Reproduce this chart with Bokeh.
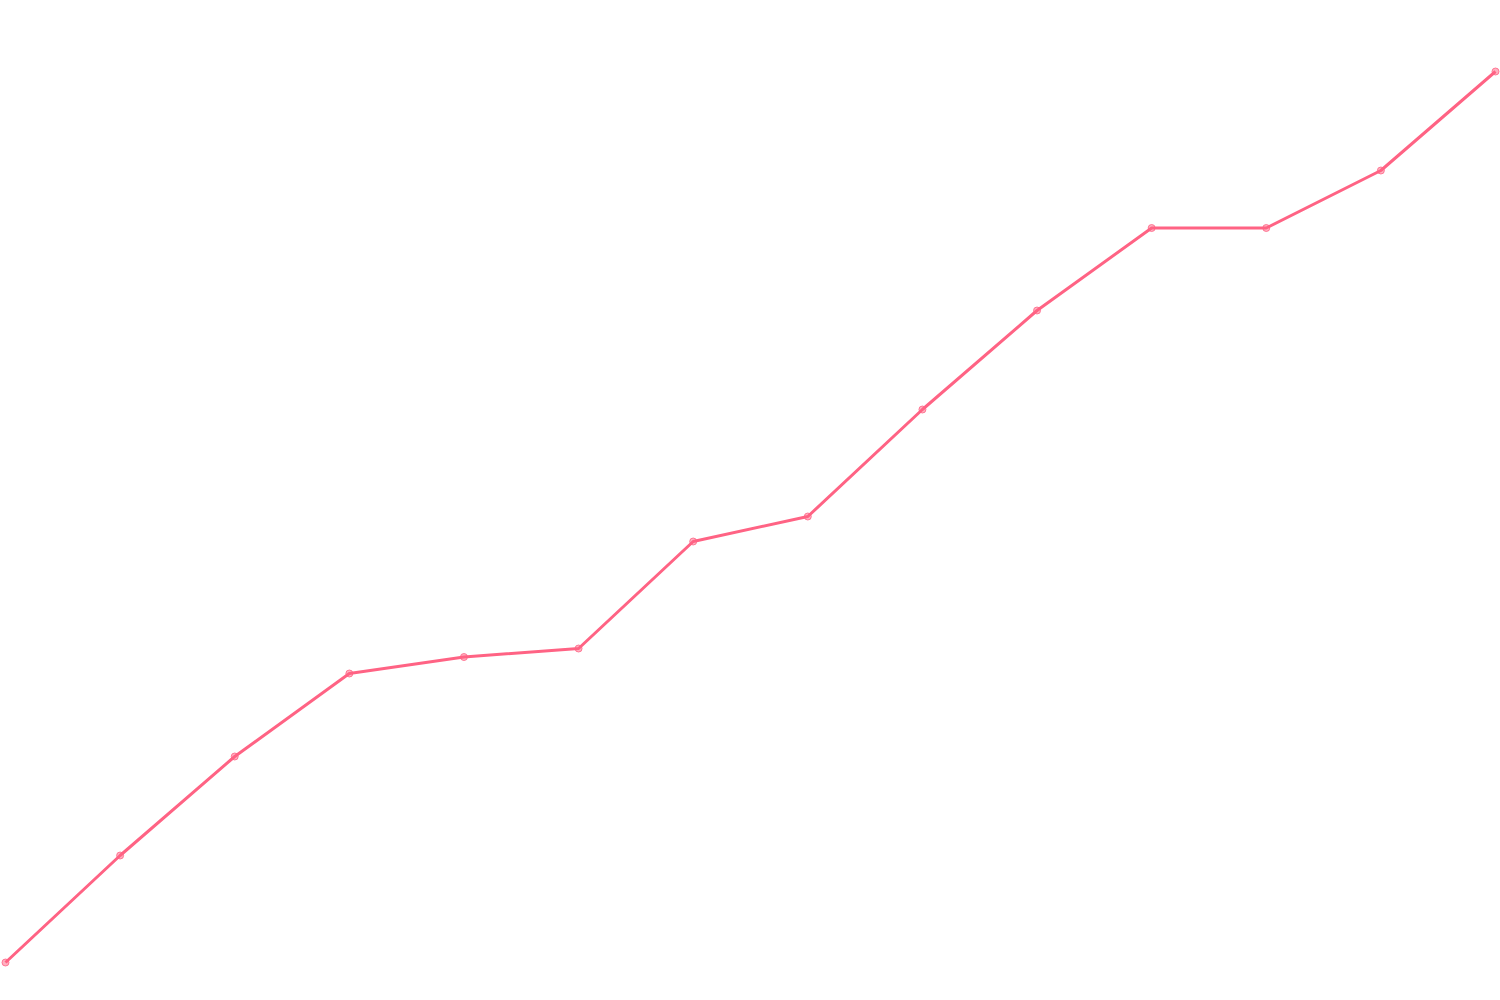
from bokeh.plotting import figure
from bokeh.models import Range1d
from bokeh.embed import file_html
from bokeh.resources import INLINE

# values (arbitrary units, no axes shown)
steps = list(range(14))
values = [38, 145, 244, 327, 343.5, 352, 459, 484, 591, 690, 772.5, 772.5, 830, 929]

LINE_COLOR = "#ff6384"

p = figure(width=1500, height=1000,
           x_range=Range1d(-0.0436, 13.0436), y_range=Range1d(0, 1000),
           output_backend="svg", toolbar_location=None, tools="",
           min_border=0, outline_line_color=None)
p.axis.visible = False
p.grid.visible = False
p.background_fill_color = "white"
p.border_fill_color = "white"

p.line(steps, values, line_color=LINE_COLOR, line_width=3)
p.scatter(steps, values, marker="circle", size=7,
          line_color=LINE_COLOR, line_alpha=0.8,
          fill_color=LINE_COLOR, fill_alpha=0.5)

open("out.html", "w").write(file_html(p, INLINE))
